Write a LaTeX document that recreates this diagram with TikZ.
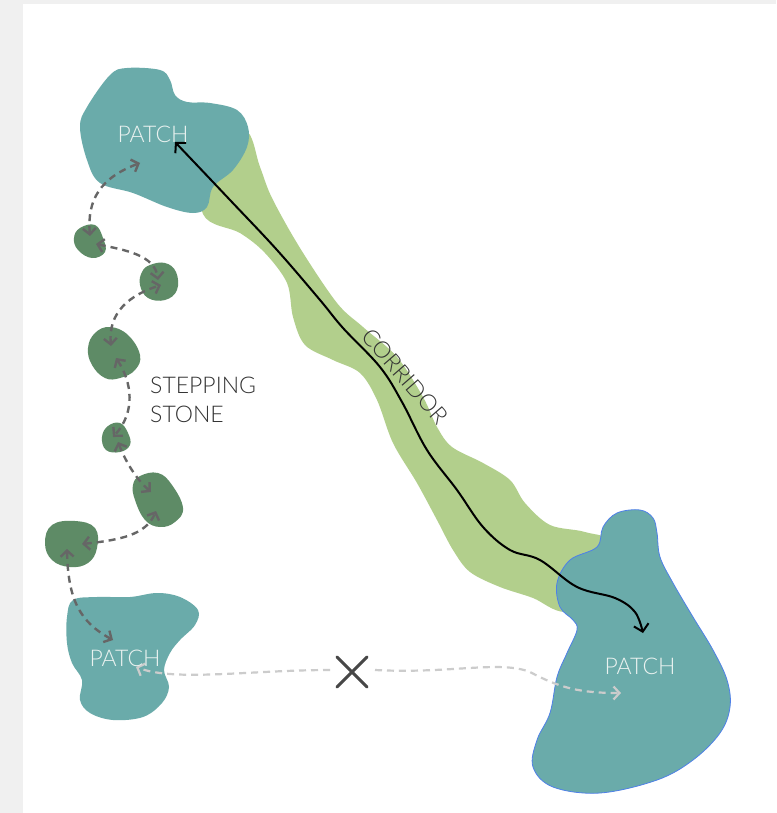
\documentclass[tikz,border=0pt]{standalone}
\usepackage{fontspec}
\setmainfont{Lato Light}
\usetikzlibrary{arrows.meta}
\definecolor{bgray}{HTML}{F0F0F0}
\definecolor{teal}{HTML}{6AABAA}
\definecolor{corr}{HTML}{B2CF8C}
\definecolor{stone}{HTML}{5E8B66}
\definecolor{dgray}{HTML}{666666}
\definecolor{lgray}{HTML}{CCCCCC}
\definecolor{txt}{HTML}{333333}
\definecolor{ptxt}{HTML}{EAF2F0}
\definecolor{edge}{HTML}{4F80E8}
\tikzset{
  patchshape/.style={fill=teal, draw=none},
  stoneshape/.style={fill=stone, draw=none},
  stepconn/.style={draw=dgray, line width=2.4pt, dash pattern=on 7pt off 5pt,
    {Straight Barb[length=6pt,width=13pt]}-{Straight Barb[length=6pt,width=13pt]}},
  lostconn/.style={draw=lgray, line width=2.2pt, dash pattern=on 7pt off 5pt},
  corrconn/.style={draw=black, line width=2pt,
    {Straight Barb[length=7pt,width=15pt]}-{Straight Barb[length=7pt,width=15pt]}},
  labtxt/.style={font=\fontsize{23}{29}\selectfont, inner sep=0pt},
}
\begin{document}
\begin{tikzpicture}[x=1pt,y=-1pt]
\fill[bgray] (0,0) rectangle (776,813);
\fill[white] (23,4) rectangle (776,813);
\useasboundingbox (0,0) rectangle (776,813);
% corridor
\fill[corr] plot[smooth cycle, tension=0.55] coordinates {
  (205,150) (245,130) (260,167) (272,198) (300,248) (337,303) (363,327)
  (397,357) (423,397) (437,427) (452,447) (483,463) (510,480) (525,503)
  (550,525) (585,532) (615,545) (615,600) (565,612) (533,598) (500,587)
  (470,572) (453,550) (437,520) (417,483) (393,443) (377,400) (360,373)
  (333,360) (305,345) (293,317) (287,283) (265,253) (240,233) (203,214)};
% top-left patch
\fill[patchshape] plot[smooth cycle, tension=0.6] coordinates {
  (87,107) (110,75) (127,68) (160,70) (170,80) (175,95) (187,102) (210,103)
  (237,110) (248,127) (247,147) (233,170) (213,187) (207,207) (193,213)
  (167,207) (133,193) (100,183) (87,160) (80,127)};
% bottom-right patch
\fill[patchshape, draw=edge, line width=0.8pt] plot[smooth cycle, tension=0.6] coordinates {
  (640,510) (653,518) (657,533) (660,557) (673,583) (693,617) (713,650)
  (727,680) (730,707) (720,733) (693,760) (657,780) (600,793) (553,787)
  (533,767) (537,740) (550,713) (557,677) (567,653) (577,630) (573,620)
  (560,607) (557,583) (570,560) (597,547) (603,527) (617,513)};
% bottom-left patch
\fill[patchshape] plot[smooth cycle, tension=0.6] coordinates {
  (73,600) (97,597) (130,597) (157,593) (180,597) (198,610) (195,625)
  (180,640) (170,653) (164,670) (169,687) (162,703) (143,717) (113,720)
  (90,713) (80,700) (82,680) (72,663) (67,643) (67,617)};
% stepping stones
\fill[stoneshape] plot[smooth cycle, tension=0.7] coordinates {
  (80,228) (95,225) (103,238) (105,252) (92,258) (78,250) (74,238)};
\fill[stoneshape] plot[smooth cycle, tension=0.7] coordinates {
  (150,265) (165,263) (176,272) (177,290) (165,300) (148,298) (140,285) (142,272)};
\fill[stoneshape] plot[smooth cycle, tension=0.7] coordinates {
  (95,333) (110,327) (128,335) (140,355) (135,370) (120,378) (105,378) (92,365) (88,348)};
\fill[stoneshape] plot[smooth cycle, tension=0.7] coordinates {
  (108,426) (120,423) (128,433) (130,445) (120,452) (106,450) (102,437)};
\fill[stoneshape] plot[smooth cycle, tension=0.7] coordinates {
  (140,476) (158,473) (172,485) (183,508) (175,522) (160,527) (145,520) (135,500) (133,485)};
\fill[stoneshape] plot[smooth cycle, tension=0.7] coordinates {
  (52,525) (75,521) (95,528) (97,548) (88,563) (70,567) (52,560) (45,543)};
% connector end points
\coordinate (pTL) at (140,163);
\coordinate (s1a) at (90,236);
\coordinate (s1b) at (96,244);
\coordinate (s2a) at (158,280);
\coordinate (s2b) at (161,285);
\coordinate (s3a) at (111,346);
\coordinate (s3b) at (116,358);
\coordinate (s4a) at (113,437);
\coordinate (s4b) at (118,442);
\coordinate (s5a) at (151,492);
\coordinate (s5b) at (156,511);
\coordinate (s6a) at (82,544);
\coordinate (s6b) at (67,549);
\coordinate (pBL) at (113,640);
\coordinate (pBLx) at (136,667);
\coordinate (xL) at (330,670);
\coordinate (xR) at (375,670);
\coordinate (pBR) at (621,693);
\coordinate (cTop) at (175,142);
\coordinate (cBot) at (643,633);
% stepping-stone connectors
\draw[stepconn] (s1a) .. controls (87,200) and (100,178) .. (pTL);
\draw[stepconn] (s1b) .. controls (125,250) and (155,255) .. (s2a);
\draw[stepconn] (s3a) .. controls (108,312) and (130,295) .. (s2b);
\draw[stepconn] (s3b) .. controls (132,382) and (136,412) .. (s4a);
\draw[stepconn] (s4b) .. controls (125,460) and (135,478) .. (s5a);
\draw[stepconn] (s6a) .. controls (120,540) and (146,535) .. (s5b);
\draw[stepconn] (s6b) .. controls (68,600) and (80,622) .. (pBL);
% corridor connector
\draw[corrconn] plot[smooth, tension=0.6] coordinates {
  (cTop) (230,200) (277,250) (320,300) (343,328) (380,367) (402,402)
  (427,450) (457,490) (483,527) (510,550) (540,560) (577,587) (615,598)
  (635,612) (cBot)};
% blocked connector
\draw[lostconn, -{Straight Barb[length=6pt,width=13pt]}]
  (xL) .. controls (250,670) and (175,682) .. (pBLx);
\draw[lostconn, -{Straight Barb[length=6pt,width=13pt]}]
  (xR) .. controls (450,674) and (500,660) .. (530,672)
  .. controls (560,688) and (580,693) .. (pBR);
\draw[txt!90, line width=3pt, line cap=round] (337,657) -- (367,687) (337,687) -- (367,657);
% labels
\node[labtxt, text=ptxt] (tl) at (153,134) {PATCH};
\node[labtxt, text=ptxt] (bl) at (125,658) {PATCH};
\node[labtxt, text=ptxt] (br) at (640,666) {PATCH};
\node[labtxt, text=txt, align=left, anchor=west] (ss) at (150,400) {STEPPING\\STONE};
\node[labtxt, text=txt, rotate=-49] (cor) at (405,376) {CORRIDOR};
\end{tikzpicture}
\end{document}
